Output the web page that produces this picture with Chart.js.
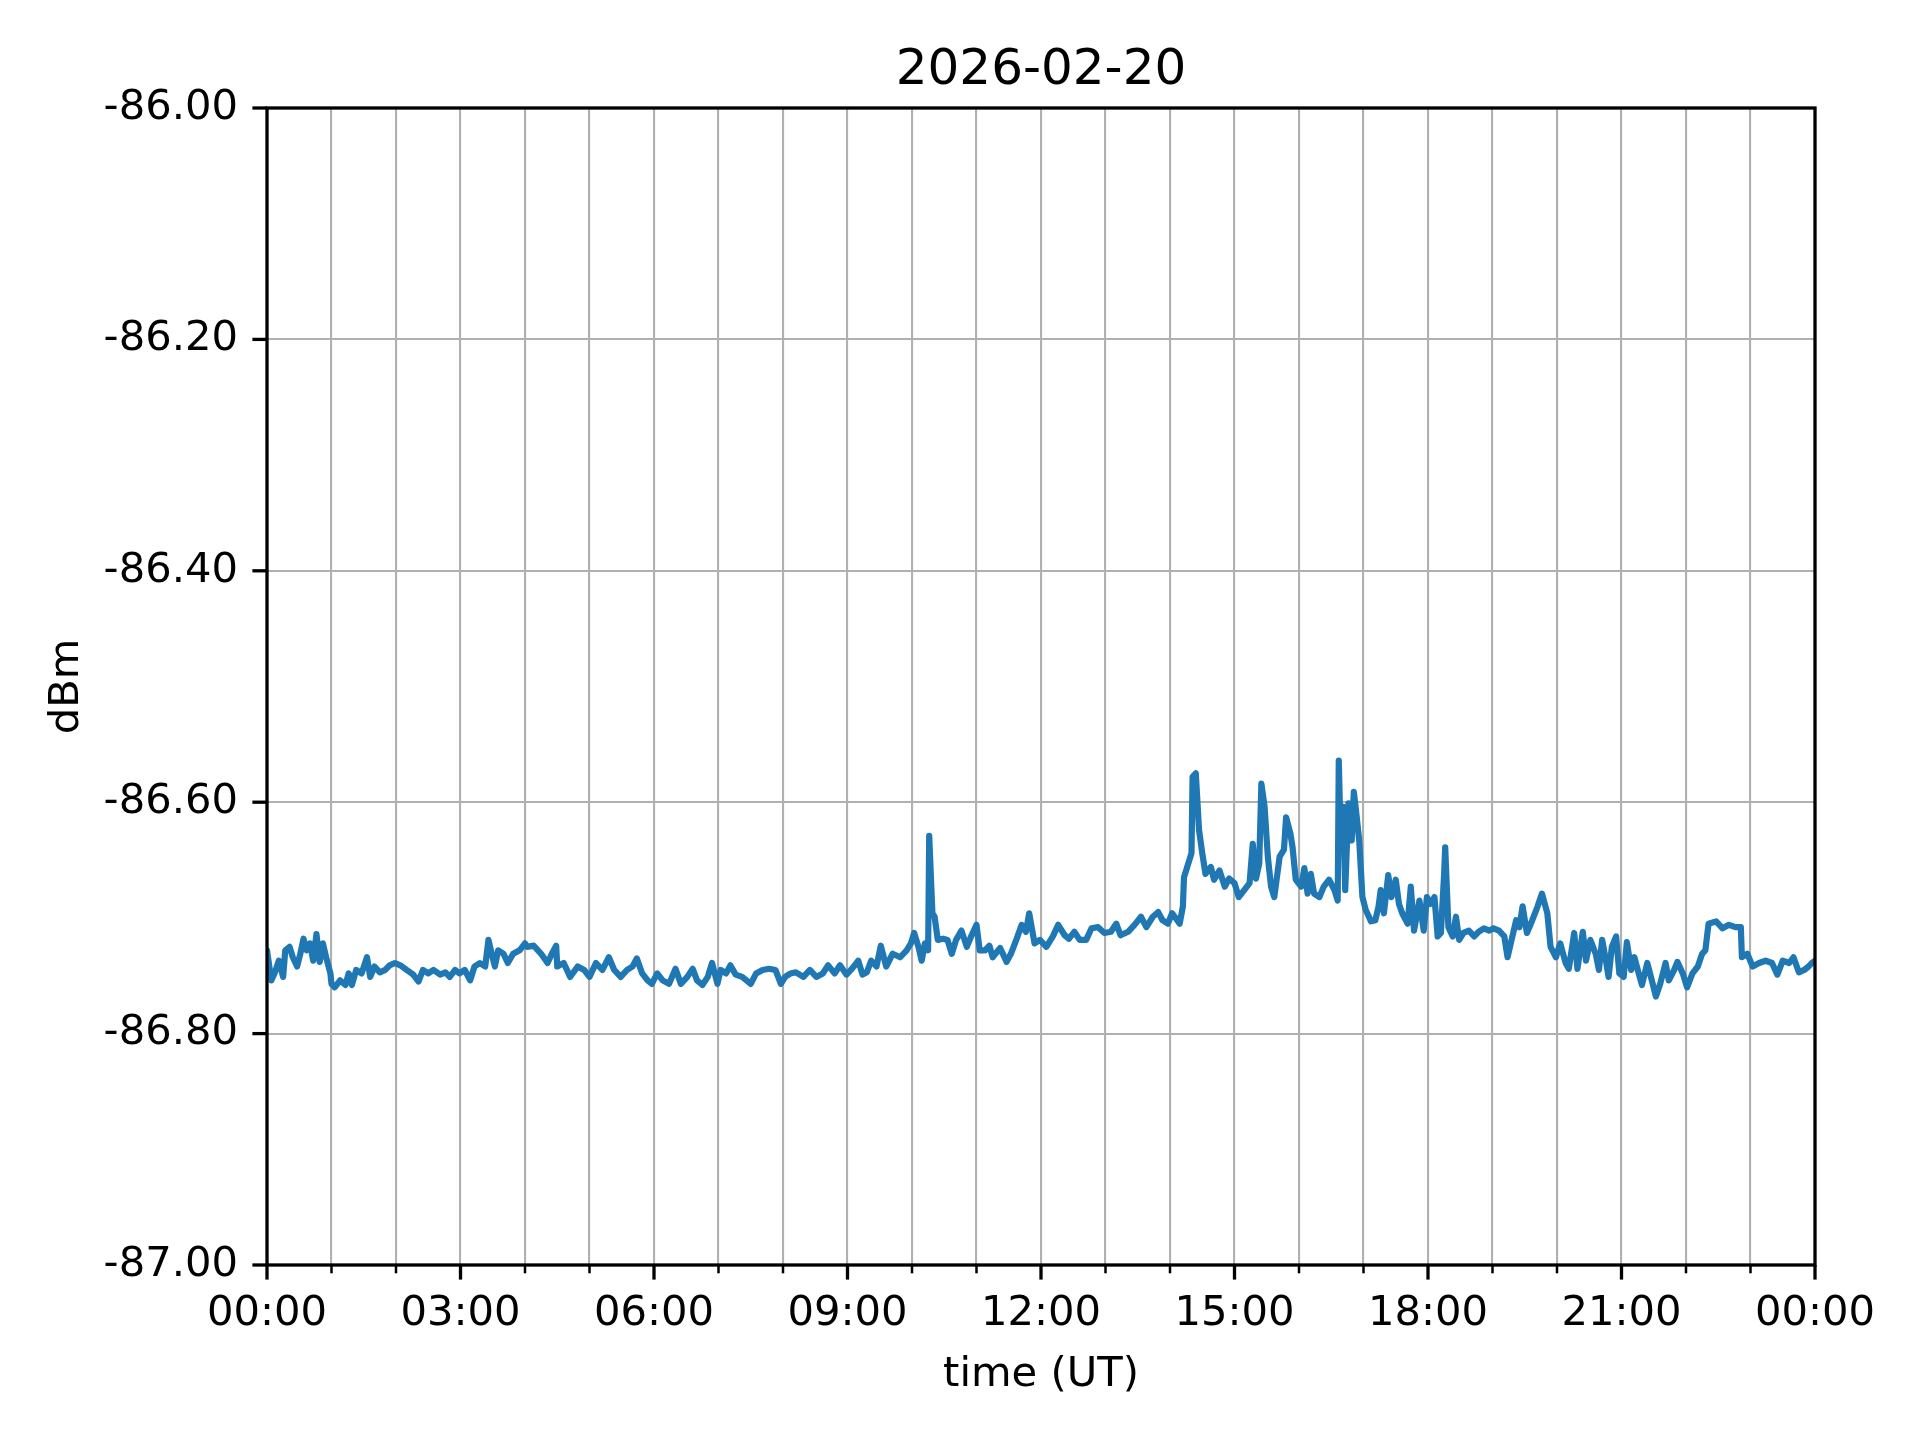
<!DOCTYPE html>
<html>
<head>
<meta charset="utf-8">
<title>2026-02-20</title>
<script src="https://cdn.jsdelivr.net/npm/chart.js@4/dist/chart.umd.min.js"></script>
<style>
  html, body { margin: 0; padding: 0; background: #fff; }
  canvas { display: block; }
</style>
</head>
<body>
<canvas id="signal" width="1920" height="1440"></canvas>
<script>
// minutes after 00:00 UT
var minutes = [
    0, 4, 7, 11, 15, 17, 21, 24, 28, 31, 34, 37, 40, 43, 46, 49, 52, 55, 59, 60,
    63, 68, 73, 76, 79, 83, 88, 93, 96, 100, 105, 110, 114, 119, 124, 130, 136, 141, 145, 150,
    155, 161, 166, 170, 175, 179, 184, 189, 193, 198, 203, 206, 209, 212, 215, 220, 224, 229, 235, 240,
    242, 248, 255, 261, 265, 269, 270, 276, 282, 289, 295, 300, 306, 312, 318, 323, 329, 335, 340, 344,
    349, 354, 358, 363, 368, 374, 380, 385, 391, 396, 400, 405, 410, 414, 419, 422, 427, 431, 436, 442,
    450, 455, 461, 467, 473, 478, 482, 487, 492, 499, 505, 511, 517, 522, 528, 533, 539, 544, 550, 554,
    558, 562, 567, 571, 576, 582, 589, 595, 599, 602, 606, 609, 612, 615, 616, 619, 621, 624, 629, 633,
    637, 641, 646, 651, 655, 660, 663, 668, 672, 675, 682, 688, 692, 697, 702, 706, 709, 714, 719, 725,
    731, 736, 742, 746, 751, 756, 762, 767, 773, 779, 785, 790, 794, 801, 807, 813, 818, 824, 829, 833,
    838, 842, 849, 852, 853, 856, 860, 861, 864, 867, 870, 873, 878, 881, 886, 891, 895, 900, 904, 909,
    914, 917, 920, 923, 925, 928, 931, 934, 937, 942, 946, 948, 952, 954, 957, 962, 965, 968, 971, 974,
    979, 983, 988, 993, 996, 997, 999, 1001, 1003, 1006, 1009, 1011, 1013, 1016, 1019, 1022, 1027, 1031, 1034, 1036,
    1039, 1043, 1046, 1050, 1053, 1056, 1061, 1064, 1067, 1072, 1076, 1079, 1082, 1086, 1089, 1092, 1095, 1096, 1099, 1103,
    1106, 1109, 1113, 1118, 1123, 1127, 1132, 1137, 1141, 1146, 1151, 1154, 1157, 1162, 1165, 1168, 1172, 1177, 1182, 1186,
    1191, 1194, 1199, 1203, 1208, 1211, 1216, 1219, 1224, 1227, 1231, 1236, 1239, 1242, 1245, 1248, 1251, 1255, 1258, 1262,
    1265, 1269, 1272, 1276, 1279, 1284, 1289, 1292, 1296, 1301, 1304, 1309, 1312, 1317, 1321, 1326, 1331, 1335, 1338, 1341,
    1348, 1354, 1360, 1366, 1371, 1372, 1377, 1382, 1388, 1394, 1400, 1405, 1410, 1416, 1420, 1425, 1430, 1434, 1437, 1440
];
var dbm = [
    -86.728, -86.754, -86.748, -86.737, -86.751, -86.728, -86.725, -86.734, -86.742, -86.731, -86.718, -86.728, -86.722, -86.737, -86.714, -86.738, -86.722, -86.734, -86.748, -86.757,
    -86.760, -86.754, -86.758, -86.748, -86.758, -86.745, -86.748, -86.734, -86.751, -86.742, -86.747, -86.745, -86.741, -86.739, -86.741, -86.745, -86.749, -86.755, -86.745, -86.748,
    -86.745, -86.749, -86.747, -86.751, -86.745, -86.748, -86.745, -86.754, -86.742, -86.739, -86.742, -86.719, -86.731, -86.742, -86.728, -86.731, -86.739, -86.731, -86.728, -86.722,
    -86.725, -86.724, -86.731, -86.739, -86.731, -86.724, -86.742, -86.739, -86.751, -86.742, -86.745, -86.751, -86.739, -86.745, -86.734, -86.745, -86.751, -86.745, -86.742, -86.735,
    -86.748, -86.754, -86.757, -86.748, -86.754, -86.757, -86.744, -86.757, -86.751, -86.744, -86.754, -86.758, -86.751, -86.739, -86.757, -86.745, -86.748, -86.741, -86.749, -86.751,
    -86.757, -86.748, -86.745, -86.744, -86.745, -86.757, -86.751, -86.748, -86.747, -86.751, -86.745, -86.751, -86.748, -86.741, -86.748, -86.741, -86.749, -86.744, -86.737, -86.749,
    -86.747, -86.737, -86.742, -86.724, -86.742, -86.731, -86.734, -86.728, -86.722, -86.713, -86.725, -86.737, -86.722, -86.728, -86.629, -86.696, -86.699, -86.719, -86.718, -86.719,
    -86.731, -86.719, -86.711, -86.725, -86.716, -86.706, -86.728, -86.728, -86.724, -86.734, -86.726, -86.738, -86.731, -86.719, -86.706, -86.712, -86.696, -86.722, -86.719, -86.725,
    -86.716, -86.706, -86.715, -86.718, -86.712, -86.719, -86.719, -86.709, -86.708, -86.713, -86.712, -86.705, -86.715, -86.712, -86.706, -86.699, -86.708, -86.699, -86.695, -86.702,
    -86.705, -86.696, -86.705, -86.690, -86.665, -86.656, -86.644, -86.578, -86.575, -86.624, -86.644, -86.662, -86.656, -86.667, -86.659, -86.673, -86.666, -86.670, -86.682, -86.676,
    -86.670, -86.636, -86.666, -86.653, -86.584, -86.604, -86.647, -86.673, -86.682, -86.647, -86.641, -86.613, -86.627, -86.639, -86.667, -86.673, -86.657, -86.679, -86.662, -86.679,
    -86.682, -86.673, -86.667, -86.676, -86.685, -86.564, -86.641, -86.604, -86.676, -86.601, -86.633, -86.591, -86.607, -86.633, -86.682, -86.693, -86.703, -86.702, -86.690, -86.676,
    -86.696, -86.663, -86.682, -86.667, -86.688, -86.696, -86.705, -86.673, -86.711, -86.685, -86.711, -86.682, -86.688, -86.682, -86.716, -86.713, -86.662, -86.639, -86.708, -86.716,
    -86.699, -86.719, -86.713, -86.711, -86.716, -86.712, -86.709, -86.711, -86.709, -86.711, -86.716, -86.734, -86.722, -86.702, -86.708, -86.690, -86.713, -86.702, -86.690, -86.679,
    -86.696, -86.725, -86.734, -86.722, -86.739, -86.744, -86.713, -86.744, -86.712, -86.737, -86.719, -86.731, -86.745, -86.719, -86.734, -86.751, -86.725, -86.716, -86.748, -86.751,
    -86.721, -86.745, -86.734, -86.748, -86.758, -86.739, -86.757, -86.768, -86.757, -86.739, -86.754, -86.745, -86.738, -86.748, -86.760, -86.748, -86.742, -86.731, -86.728, -86.705,
    -86.703, -86.709, -86.706, -86.708, -86.708, -86.734, -86.731, -86.742, -86.739, -86.737, -86.739, -86.749, -86.737, -86.739, -86.734, -86.747, -86.745, -86.742, -86.739, -86.737
];
var yTicks = [-87.0, -86.8, -86.6, -86.4, -86.2, -86.0];
var xLabelEvery = 180;   // labelled ticks every 3 h, minor ticks every hour

function hhmm(m) {
    m = m % 1440;
    var h = Math.floor(m / 60), mm = m % 60;
    return (h < 10 ? '0' : '') + h + ':' + (mm < 10 ? '0' : '') + mm;
}

// matplotlib style spines and tick marks (drawn on top of the line)
var frameAndTicks = {
    id: 'frameAndTicks',
    afterDraw: function(chart) {
        var ctx = chart.ctx, a = chart.chartArea;
        var x = chart.scales.x, y = chart.scales.y;
        ctx.save();
        ctx.strokeStyle = '#000';
        ctx.lineCap = 'butt';
        x.ticks.forEach(function(t) {
            var major = t.value % xLabelEvery === 0;
            var px = x.getPixelForValue(t.value);
            ctx.lineWidth = major ? 3.3 : 2.5;
            ctx.beginPath();
            ctx.moveTo(px, a.bottom);
            ctx.lineTo(px, a.bottom + (major ? 14.6 : 8.3));
            ctx.stroke();
        });
        ctx.lineWidth = 3.3;
        y.ticks.forEach(function(t) {
            var py = y.getPixelForValue(t.value);
            ctx.beginPath();
            ctx.moveTo(a.left, py);
            ctx.lineTo(a.left - 14.6, py);
            ctx.stroke();
        });
        ctx.lineWidth = 3.3;
        ctx.strokeRect(a.left, a.top, a.right - a.left, a.bottom - a.top);
        ctx.restore();
    }
};

function initSignalChart() {
    var ctx = document.getElementById('signal').getContext('2d');
    var points = minutes.map(function(m, i) { return {x: m, y: dbm[i]}; });
    var tickFont = {family: 'DejaVu Sans', size: 41.7};

    var chart = new Chart(ctx, {
        type: 'line',
        data: {
            datasets: [{
                data: points,
                borderColor: '#1f77b4',
                borderWidth: 6.2,
                borderJoinStyle: 'round',
                borderCapStyle: 'round',
                pointRadius: 0,
                tension: 0,
                fill: false
            }]
        },
        options: {
            responsive: false,
            animation: false,
            devicePixelRatio: 1,
            layout: { padding: {left: 0, right: 105, top: 0, bottom: 0} },
            plugins: {
                legend: { display: false },
                tooltip: { enabled: false },
                title: {
                    display: true,
                    fullSize: false,
                    text: '2026-02-20',
                    color: '#000',
                    font: {family: 'DejaVu Sans', size: 50, weight: 'normal'},
                    padding: {top: 41, bottom: 7}
                }
            },
            scales: {
                x: {
                    type: 'linear',
                    min: 0,
                    max: 1440,
                    afterFit: function(scale) { scale.height = 175; },
                    border: { display: false },
                    grid: { color: '#b0b0b0', lineWidth: 2.1, drawTicks: false },
                    ticks: {
                        stepSize: 60,
                        autoSkip: false,
                        maxRotation: 0,
                        padding: 24,
                        color: '#000',
                        font: tickFont,
                        callback: function(v) { return v % xLabelEvery === 0 ? hhmm(v) : ''; }
                    },
                    title: {
                        display: true,
                        text: 'time (UT)',
                        color: '#000',
                        font: tickFont,
                        padding: {top: 0, bottom: 40}
                    }
                },
                y: {
                    min: yTicks[0],
                    max: yTicks[yTicks.length - 1],
                    afterFit: function(scale) { scale.width = 267; },
                    afterBuildTicks: function(scale) {
                        scale.ticks = yTicks.map(function(v) { return {value: v}; });
                    },
                    border: { display: false },
                    grid: { color: '#b0b0b0', lineWidth: 2.1, drawTicks: false },
                    ticks: {
                        padding: 29,
                        color: '#000',
                        font: tickFont,
                        callback: function(v) { return v.toFixed(2); }
                    },
                    title: {
                        display: true,
                        text: 'dBm',
                        color: '#000',
                        font: tickFont,
                        padding: {top: 42, bottom: 0}
                    }
                }
            }
        },
        plugins: [frameAndTicks]
    });
    return chart;
}

initSignalChart();
</script>
</body>
</html>
